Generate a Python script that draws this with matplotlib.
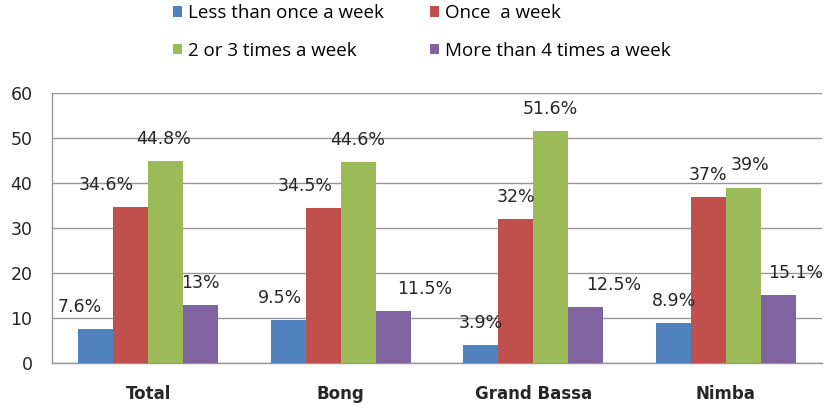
import matplotlib.pyplot as plt
import numpy as np

plt.rcParams.update({
    "font.family": ["DejaVu Sans"],
    "font.size": 12.5,
})

# ── Data ──────────────────────────────────────────────────────────────────────
counties = ["Total", "Bong", "Grand Bassa", "Nimba"]
series_names = ["Less than once a week", "Once  a week",
                "2 or 3 times a week", "More than 4 times a week"]
less_than_once = [7.6, 9.5, 3.9, 8.9]
once_a_week = [34.6, 34.5, 32.0, 37.0]
two_or_three = [44.8, 44.6, 51.6, 39.0]
more_than_four = [13.0, 11.5, 12.5, 15.1]

COLORS = ["#4F81BD", "#C0504D", "#9BBB59", "#8064A2"]
TEXT = "#262626"
GRID = "#969696"

# horizontal nudges (px) for the value labels, per series then per county
label_dx = [
    [-16, -8, 0, 1],
    [-24, -18, 0, 0],
    [-2, -1, 0, 7],
    [0, 31, 28, 17],
]

series = [less_than_once, once_a_week, two_or_three, more_than_four]

fig = plt.figure(figsize=(8.3, 4.17), dpi=100)
ax = fig.add_axes([52 / 830, 1 - 363 / 417, 770 / 830, 270 / 417])

x = np.arange(len(counties))
width = 0.182
handles = []
for i, (vals, color) in enumerate(zip(series, COLORS)):
    pos = x + (i - 1.5) * width
    bars = ax.bar(pos, vals, width=width, color=color, zorder=3, linewidth=0)
    handles.append(bars)
    for j, (b, v) in enumerate(zip(bars, vals)):
        ax.annotate(f"{v:g}%", (b.get_x() + b.get_width() / 2, v),
                    xytext=(label_dx[i][j] * 0.72, 22 * 0.72),
                    textcoords="offset points", ha="center", va="center",
                    fontsize=12.5, color=TEXT, zorder=4)

ax.set_xlim(-0.5, 3.5)
ax.set_ylim(0, 60)
ax.set_yticks(range(0, 61, 10))
ax.set_xticks(x)
ax.set_xticklabels(counties, fontweight="bold", fontsize=12)
ax.tick_params(axis="both", length=0, colors=TEXT)
ax.tick_params(axis="y", pad=14, labelsize=12.5)
ax.tick_params(axis="x", pad=16)

ax.yaxis.grid(True, color=GRID, linewidth=1, zorder=0)
ax.set_axisbelow(True)
for s in ["top", "right"]:
    ax.spines[s].set_visible(False)
for s in ["left", "bottom"]:
    ax.spines[s].set_color(GRID)
    ax.spines[s].set_linewidth(1)

# legend laid out row by row: column-major order for ncol=2
order = [0, 2, 1, 3]
fig.legend([handles[k] for k in order], [series_names[k] for k in order],
           ncol=2, loc="upper left", bbox_to_anchor=(173 / 830, 1 - 4 / 417),
           frameon=False, borderpad=0, borderaxespad=0,
           handlelength=0.5, handleheight=0.5,
           handletextpad=0.3, columnspacing=2.45, labelspacing=1.05,
           prop={"family": "Open Sans", "size": 13.5})

fig.savefig("out.png", dpi=100)
